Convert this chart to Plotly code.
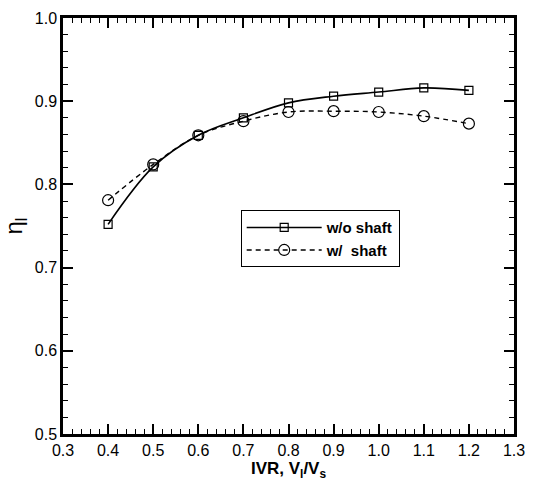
import plotly.graph_objects as go

ivr = [0.4, 0.5, 0.6, 0.7, 0.8, 0.9, 1.0, 1.1, 1.2]
eta_no_shaft = [0.752, 0.821, 0.859, 0.880, 0.898, 0.906, 0.911, 0.916, 0.913]
eta_shaft = [0.781, 0.824, 0.859, 0.876, 0.887, 0.888, 0.887, 0.882, 0.873]

x_ticks = [0.3, 0.4, 0.5, 0.6, 0.7, 0.8, 0.9, 1.0, 1.1, 1.2, 1.3]
y_ticks = [0.5, 0.6, 0.7, 0.8, 0.9, 1.0]

fig = go.Figure()
fig.add_trace(go.Scatter(
    x=ivr, y=eta_no_shaft, name="w/o shaft", mode="lines+markers",
    line=dict(color="black", width=1.6, shape="spline"),
    marker=dict(symbol="square-open", size=8, color="black", line=dict(width=1.2)),
))
fig.add_trace(go.Scatter(
    x=ivr, y=eta_shaft, name="w/\u00a0 shaft", mode="lines+markers",
    line=dict(color="black", width=1.4, dash="5px,4px", shape="spline"),
    marker=dict(symbol="circle-open", size=11, color="black", line=dict(width=1.2)),
))

axis_common = dict(
    showgrid=False, zeroline=False, showline=True, linecolor="black", linewidth=2.5,
    mirror="allticks", ticks="inside", ticklen=10, tickwidth=2, tickcolor="black",
    tickfont=dict(family="Liberation Sans, Arial", size=16, color="black"),
)

fig.update_xaxes(
    range=[0.3, 1.3], tickvals=x_ticks, ticktext=[f"{v:.1f}" for v in x_ticks],
    minor=dict(dtick=0.02, ticks="inside", ticklen=5, tickwidth=1, tickcolor="black"),
    title=dict(text="<b>IVR, V<sub>l</sub>/V<sub>s</sub></b>",
               font=dict(family="Liberation Sans, Arial", size=17, color="black"), standoff=1),
    **axis_common,
)
fig.update_yaxes(
    range=[0.5, 1.0], tickvals=y_ticks, ticktext=[f"{v:.1f}" for v in y_ticks],
    minor=dict(dtick=0.02, ticks="inside", ticklen=5, tickwidth=1, tickcolor="black"),
    title=dict(text="η<sub>l</sub>",
               font=dict(family="Liberation Sans, Arial", size=24, color="black"), standoff=6),
    **axis_common,
)

fig.update_layout(
    width=535, height=487,
    margin=dict(l=63, r=10, t=12, b=53),
    paper_bgcolor="white", plot_bgcolor="white",
    showlegend=True,
    legend=dict(
        x=0.394, y=0.538, xanchor="left", yanchor="top",
        bordercolor="black", borderwidth=1, bgcolor="white",
        font=dict(family="Liberation Sans, Arial", size=15, color="black", weight="bold"),
        itemwidth=75, tracegroupgap=0,
    ),
)

fig.write_html("out.html")
